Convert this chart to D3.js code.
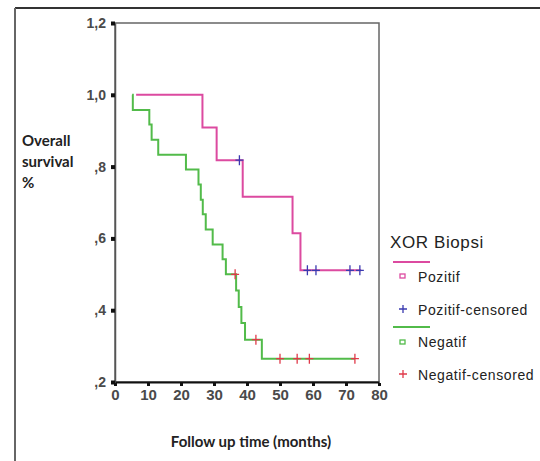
<!DOCTYPE html>
<html><head><meta charset="utf-8">
<script src="https://cdn.jsdelivr.net/npm/d3@7"></script>
<style>body{margin:0;background:#fff}svg{display:block}</style>
</head><body>
<svg id="c" width="540" height="461"></svg>
<script>
const xTicks = [0,10,20,30,40,50,60,70,80];
const yTicks = [0.2,0.4,0.6,0.8,1.0,1.2];
const yTickLabels = [",2",",4",",6",",8","1,0","1,2"];

// Kaplan-Meier steps: [time, survival after time]
const pozitifSteps = [[6.4,1.0],[26.5,0.909],[30.8,0.818],[38.7,0.716],[53.8,0.614],[56.2,0.511],[74.6,0.511]];
const pozitifCensored = [[37.7,0.818],[58.3,0.511],[60.9,0.511],[71.2,0.511],[74.2,0.511]];
const negatifSteps = [[5.2,1.0],[5.4,0.958],[10.4,0.917],[11.1,0.875],[13.1,0.833],[21.5,0.792],[25.3,0.75],[26.0,0.708],[26.6,0.667],[27.5,0.625],[29.6,0.583],[32.6,0.542],[33.6,0.5],[36.7,0.455],[37.5,0.409],[38.3,0.364],[39.4,0.318],[44.5,0.265],[72.7,0.265]];
const negatifCensored = [[36.4,0.5],[42.7,0.318],[50.0,0.265],[55.2,0.265],[58.9,0.265],[72.7,0.265]];

const svg = d3.select("#c");
const x = d3.scaleLinear().domain([0,80]).range([115,379]);
const y = d3.scaleLinear().domain([0.2,1.2]).range([382,23]);

// outer frame
svg.append("line").attr("x1",15).attr("x2",540).attr("y1",8).attr("y2",8).attr("stroke","#333").attr("stroke-width",2);
svg.append("line").attr("x1",15).attr("x2",15).attr("y1",8).attr("y2",461).attr("stroke","#666").attr("stroke-width",2);

// plot box
svg.append("rect").attr("x",115).attr("y",23).attr("width",264).attr("height",359)
  .attr("fill","none").attr("stroke","#666").attr("stroke-width",1.5);

// y axis
const yAxis = d3.axisLeft(y).tickValues(yTicks).tickSize(0).tickPadding(9)
  .tickFormat((d,i)=>yTickLabels[i]);
const ga = svg.append("g").attr("transform","translate(115,0)").call(yAxis);
ga.select(".domain").attr("stroke","#555").attr("stroke-width",1.5);
ga.selectAll("text").attr("font-family","Liberation Sans, Arial, sans-serif").attr("font-size",14).attr("font-weight","bold").attr("fill","#4a4a4a");
ga.selectAll(".tick").append("rect").attr("x",-4).attr("y",-2).attr("width",4).attr("height",4).attr("fill","#111");

// x axis
const xAxis = d3.axisBottom(x).tickValues(xTicks).tickSize(0).tickPadding(7);
const gx = svg.append("g").attr("transform","translate(0,382)").call(xAxis);
gx.select(".domain").attr("stroke","#111").attr("stroke-width",2);
gx.selectAll("text").attr("font-family","Liberation Sans, Arial, sans-serif").attr("font-size",15).attr("font-weight","bold").attr("fill","#4a4a4a");
gx.selectAll(".tick").append("rect").attr("x",-1.5).attr("y",1).attr("width",3).attr("height",3).attr("fill","#111");

// curves
const line = d3.line().x(d=>x(d[0])).y(d=>y(d[1])).curve(d3.curveStepAfter);
svg.append("path").datum(pozitifSteps).attr("d",line).attr("fill","none").attr("stroke","#dc4aa0").attr("stroke-width",2);
svg.append("path").datum(negatifSteps).attr("d",line).attr("fill","none").attr("stroke","#52bb4a").attr("stroke-width",2);

function plus(g, data, color){
  g.selectAll(null).data(data).enter().append("path")
   .attr("d",d=>{const cx=x(d[0]),cy=y(d[1]);return `M${cx-4},${cy}H${cx+4}M${cx},${cy-5}V${cy+5}`;})
   .attr("stroke",color).attr("stroke-width",1.3).attr("fill","none");
}
plus(svg, pozitifCensored, "#3a3ab0");
plus(svg, negatifCensored, "#e03a4a");

// axis titles
const lab = svg.append("g").attr("font-family","Lato, Open Sans, sans-serif").attr("font-weight","bold").attr("font-size",15).attr("fill","#222");
lab.append("text").attr("x",22).attr("y",146).text("Overall");
lab.append("text").attr("x",22).attr("y",167).text("survival");
lab.append("text").attr("x",22).attr("y",188).text("%");
lab.append("text").attr("x",251).attr("y",447).attr("text-anchor","middle").text("Follow up time (months)");

// legend
const lg = svg.append("g").attr("font-family","Liberation Sans, Arial, sans-serif").attr("fill","#222");
lg.append("text").attr("x",390).attr("y",248).attr("font-size",17).attr("letter-spacing",0.6).text("XOR Biopsi");
lg.append("line").attr("x1",393).attr("x2",430).attr("y1",262).attr("y2",262).attr("stroke","#dc4aa0").attr("stroke-width",2);
lg.append("rect").attr("x",400).attr("y",274).attr("width",5).attr("height",4).attr("fill","none").attr("stroke","#dc4aa0").attr("stroke-width",1.3);
lg.append("text").attr("x",418).attr("y",282).attr("font-size",14).attr("letter-spacing",0.6).text("Pozitif");
lg.append("path").attr("d","M399,309H407M403,305V313").attr("stroke","#3a3ab0").attr("stroke-width",1.3);
lg.append("text").attr("x",418).attr("y",315).attr("font-size",14).attr("letter-spacing",0.6).text("Pozitif-censored");
lg.append("line").attr("x1",393).attr("x2",430).attr("y1",327).attr("y2",327).attr("stroke","#52bb4a").attr("stroke-width",2);
lg.append("rect").attr("x",400).attr("y",340).attr("width",5).attr("height",4).attr("fill","none").attr("stroke","#52bb4a").attr("stroke-width",1.3);
lg.append("text").attr("x",418).attr("y",347).attr("font-size",14).attr("letter-spacing",0.6).text("Negatif");
lg.append("path").attr("d","M399,374H407M403,370V378").attr("stroke","#e03a4a").attr("stroke-width",1.3);
lg.append("text").attr("x",418).attr("y",380).attr("font-size",14).attr("letter-spacing",0.6).text("Negatif-censored");
</script>
</body></html>
